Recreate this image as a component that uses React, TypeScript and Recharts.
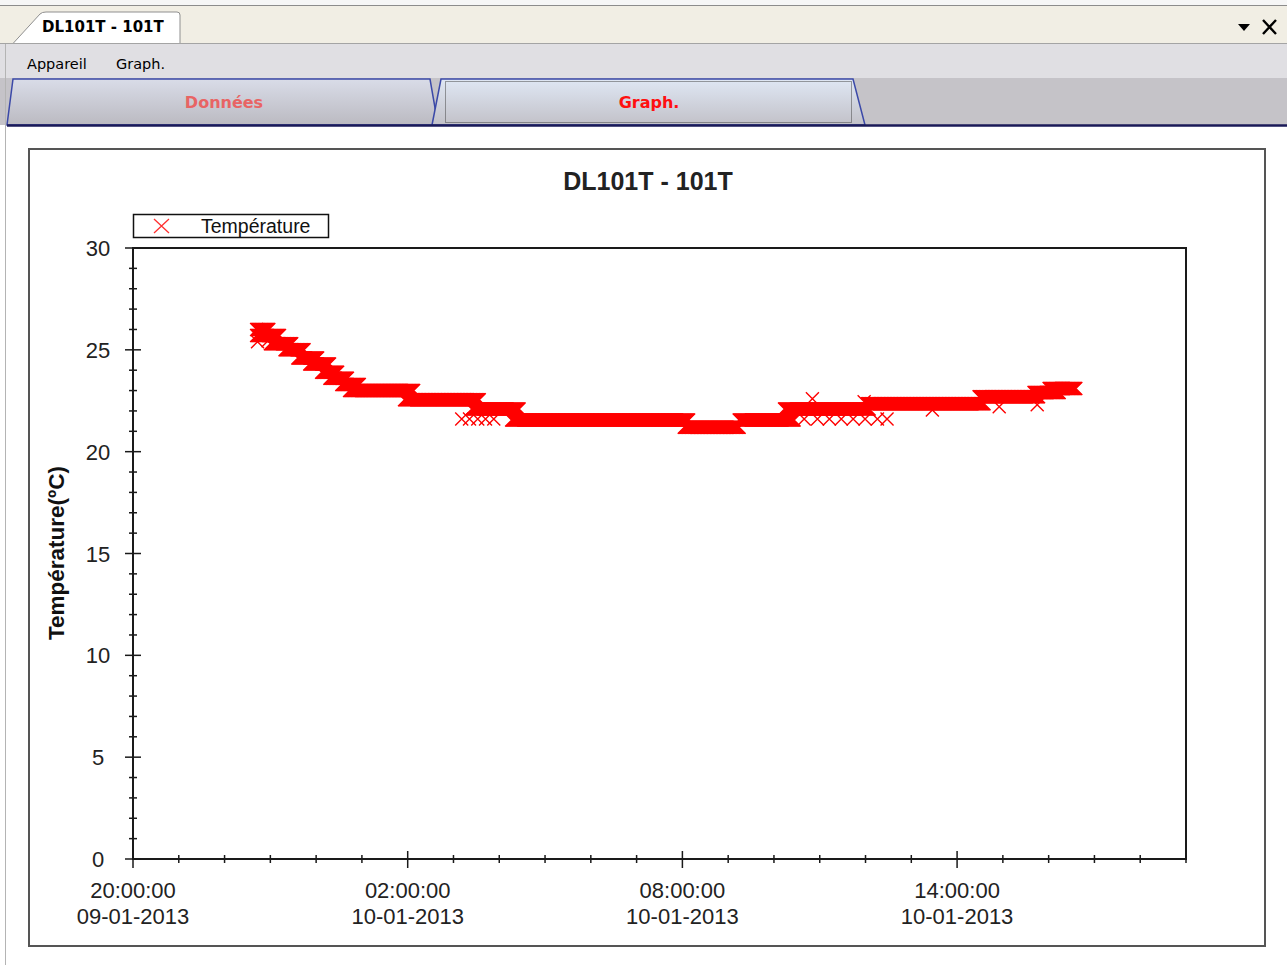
import React from "react";
import { ScatterChart, Scatter, XAxis, YAxis, ReferenceArea } from "recharts";

// readings grouped in runs of equal temperature, hours after 20:00:00 09-01-2013
const runStart = [2.7, 2.7, 3.0, 3.32, 3.6, 3.86, 4.12, 4.3, 4.56, 4.73, 5.93, 7.4, 8.27, 12.04, 13.24, 14.23, 16.04, 18.48, 19.68, 20.01];
const runEnd = [2.98, 3.21, 3.47, 3.75, 4.04, 4.3, 4.47, 4.69, 4.95, 6.13, 7.57, 8.44, 12.15, 13.24, 14.44, 16.08, 18.59, 19.79, 20.23, 20.6];
const runTemp = [26.0, 25.7, 25.3, 25.0, 24.6, 24.3, 23.9, 23.6, 23.3, 23.0, 22.55, 22.1, 21.55, 21.2, 21.55, 22.1, 22.35, 22.7, 22.9, 23.1];
const SAMPLE_H = 1 / 60; // one reading a minute

// isolated readings off the main band
const strayHour = [2.72, 2.95, 7.18, 7.35, 7.53, 7.7, 7.88, 14.66, 14.95, 15.21, 15.47, 15.73, 15.99, 16.26, 16.47, 15.97, 14.84, 17.46, 18.92, 19.75];
const strayTemp = [25.4, 25.45, 21.6, 21.6, 21.6, 21.6, 21.6, 21.6, 21.6, 21.6, 21.6, 21.6, 21.6, 21.6, 21.6, 22.45, 22.6, 22.05, 22.2, 22.3];

const xHourTicks = [0, 1, 2, 3, 4, 5, 6, 7, 8, 9, 10, 11, 12, 13, 14, 15, 16, 17, 18, 19, 20, 21, 22, 23];
const xMajorHours = [0, 6, 12, 18];
const xTimeLabels = ["20:00:00", "02:00:00", "08:00:00", "14:00:00"];
const xDateLabels = ["09-01-2013", "10-01-2013", "10-01-2013", "10-01-2013"];
const yTicks = [0, 1, 2, 3, 4, 5, 6, 7, 8, 9, 10, 11, 12, 13, 14, 15, 16, 17, 18, 19, 20, 21, 22, 23, 24, 25, 26, 27, 28, 29, 30];

const points: { t: number; v: number }[] = [];
runStart.forEach((s, i) => {
  for (let t = s; t <= runEnd[i] + 1e-9; t += SAMPLE_H) points.push({ t, v: runTemp[i] });
});
strayHour.forEach((h, i) => points.push({ t: h, v: strayTemp[i] }));

const AXIS = "#1a1a1a";
const FONT = "'Liberation Sans', Arial, sans-serif";
const UI_FONT = "'DejaVu Sans', Tahoma, sans-serif";

const Cross = (props: any) => {
  const { cx, cy } = props;
  const r = 6.5;
  return (
    <path
      d={`M${cx - r},${cy - r}L${cx + r},${cy + r}M${cx - r},${cy + r}L${cx + r},${cy - r}`}
      stroke="#ff0000"
      strokeWidth={1.4}
      fill="none"
    />
  );
};

const BottomTick = (props: any) => {
  const { x, y, payload } = props;
  const idx = xMajorHours.indexOf(payload.value);
  const major = idx >= 0;
  return (
    <g>
      <line x1={x} x2={x} y1={y - (major ? 8 : 4)} y2={y + (major ? 9 : 4)} stroke={AXIS} strokeWidth={1.5} />
      {major && (
        <text textAnchor="middle" fontSize={22} fontFamily={FONT} fill="#222">
          <tspan x={x} y={y + 39}>{xTimeLabels[idx]}</tspan>
          <tspan x={x} y={y + 65}>{xDateLabels[idx]}</tspan>
        </text>
      )}
    </g>
  );
};

const TopTick = (props: any) => {
  const { x, y, payload } = props;
  const major = xMajorHours.indexOf(payload.value) >= 0;
  return <line x1={x} x2={x} y1={y} y2={y + (major ? 9 : 5)} stroke={AXIS} strokeWidth={1.5} />;
};

const LeftTick = (props: any) => {
  const { x, y, payload } = props;
  const major = payload.value % 5 === 0;
  return (
    <g>
      <line x1={x - (major ? 8 : 4)} x2={x + (major ? 8 : 4)} y1={y} y2={y} stroke={AXIS} strokeWidth={1.5} />
      {major && (
        <text x={x - 35} y={y + 8} textAnchor="middle" fontSize={22} fontFamily={FONT} fill="#222">
          {payload.value}
        </text>
      )}
    </g>
  );
};

function Chrome() {
  return (
    <svg width={1287} height={130} style={{ position: "absolute", left: 0, top: 0 }}>
      <defs>
        <linearGradient id="tabOff" x1="0" y1="0" x2="0" y2="1">
          <stop offset="0" stopColor="#d9dce8" />
          <stop offset="1" stopColor="#bbbac1" />
        </linearGradient>
        <linearGradient id="tabOn" x1="0" y1="0" x2="0" y2="1">
          <stop offset="0" stopColor="#dfe7f4" />
          <stop offset="1" stopColor="#c2c1c8" />
        </linearGradient>
      </defs>
      <rect x={0} y={0} width={1287} height={5} fill="#f6f6f6" />
      <rect x={0} y={5} width={1287} height={38} fill="#f1eee4" />
      <line x1={0} x2={1287} y1={5.5} y2={5.5} stroke="#8c8c8c" />
      <path d="M13,43.5 L40,14 Q42,12 46,12 L177,12 Q180,12 180,15 L180,43.5" fill="#ffffff" stroke="#8f8f8f" />
      <text x={42} y={32} fontSize={15} fontWeight="bold" fontFamily={UI_FONT} fill="#000">DL101T - 101T</text>
      <path d="M1238,24 L1250,24 L1244,31 Z" fill="#000" />
      <path d="M1263,20 L1276,34 M1263,34 L1276,20" stroke="#000" strokeWidth={2.4} />
      <rect x={0} y={44} width={1287} height={34} fill="#e0dfe3" />
      <line x1={0} x2={1287} y1={43.5} y2={43.5} stroke="#a4a4a4" />
      <text x={27} y={69} fontSize={14.5} fontFamily={UI_FONT} fill="#000">Appareil</text>
      <text x={116} y={69} fontSize={14.5} fontFamily={UI_FONT} fill="#000">Graph.</text>
      <rect x={0} y={78} width={1287} height={47} fill="#c5c3c8" />
      <polygon points="7,125 13,79 430,79 438,125" fill="url(#tabOff)" stroke="#3b49a8" strokeWidth={1.5} />
      <polygon points="432,125 441,79 853,79 865,125" fill="url(#tabOn)" stroke="#3b49a8" strokeWidth={1.5} />
      <rect x={445.5} y={81.5} width={406} height={41} fill="none" stroke="#444" strokeDasharray="1,1" />
      <text x={224} y={108} textAnchor="middle" fontSize={16} fontWeight="bold" fontFamily={UI_FONT} fill="#e86464">Données</text>
      <text x={649} y={108} textAnchor="middle" fontSize={16} fontWeight="bold" fontFamily={UI_FONT} fill="#ff1010">Graph.</text>
      <line x1={7} x2={1287} y1={125.5} y2={125.5} stroke="#1a1a58" strokeWidth={2.5} />
      <line x1={5.5} x2={5.5} y1={44} y2={130} stroke="#b4b4b4" />
    </svg>
  );
}

export default function App() {
  return (
    <div style={{ position: "absolute", left: 0, top: 0, width: 1287, height: 965, background: "#fff", overflow: "hidden" }}>
      <Chrome />
      <div style={{ position: "absolute", left: 5, top: 126, width: 1, height: 839, background: "#b4b4b4" }} />
      <div
        style={{
          position: "absolute",
          left: 28,
          top: 148,
          width: 1238,
          height: 799,
          boxSizing: "border-box",
          border: "2px solid #555",
        }}
      />
      <div style={{ position: "absolute", left: 28, top: 148 }}>
        <ScatterChart width={1238} height={799} margin={{ top: 100, right: 80, bottom: 0, left: 0 }}>
          <XAxis
            dataKey="t"
            type="number"
            domain={[0, 23]}
            ticks={xHourTicks}
            interval={0}
            height={88}
            tickSize={0}
            tickMargin={0}
            tickLine={false}
            axisLine={false}
            tick={<BottomTick />}
          />
          <XAxis
            xAxisId="top"
            orientation="top"
            dataKey="t"
            type="number"
            domain={[0, 23]}
            ticks={xHourTicks}
            interval={0}
            height={0}
            tickSize={0}
            tickMargin={0}
            tickLine={false}
            axisLine={false}
            tick={<TopTick />}
          />
          <YAxis
            dataKey="v"
            type="number"
            domain={[0, 30]}
            ticks={yTicks}
            interval={0}
            width={105}
            tickSize={0}
            tickMargin={0}
            tickLine={false}
            axisLine={false}
            tick={<LeftTick />}
          />
          <ReferenceArea x1={0} x2={23} y1={0} y2={30} fill="none" fillOpacity={0} stroke={AXIS} strokeWidth={2} />
          <Scatter data={points} dataKey="v" shape={<Cross />} isAnimationActive={false} />
        </ScatterChart>
      </div>
      <svg width={1287} height={965} style={{ position: "absolute", left: 0, top: 0, pointerEvents: "none" }}>
        <text x={648} y={190} textAnchor="middle" fontSize={25} fontWeight="bold" fontFamily={FONT} fill="#222">
          DL101T - 101T
        </text>
        <text
          x={64}
          y={553}
          transform="rotate(-90 64 553)"
          textAnchor="middle"
          fontSize={22.5}
          fontWeight="bold"
          fontFamily={FONT}
          fill="#111"
        >
          Température(ºC)
        </text>
        <rect x={133.5} y={214.5} width={195} height={23} fill="#fff" stroke="#111" strokeWidth={1.5} />
        <path d="M154,219 L169,233 M154,233 L169,219" stroke="#ff3030" strokeWidth={1.3} />
        <text x={201} y={233} fontSize={19.5} fontFamily={FONT} fill="#111">
          Température
        </text>
      </svg>
    </div>
  );
}
